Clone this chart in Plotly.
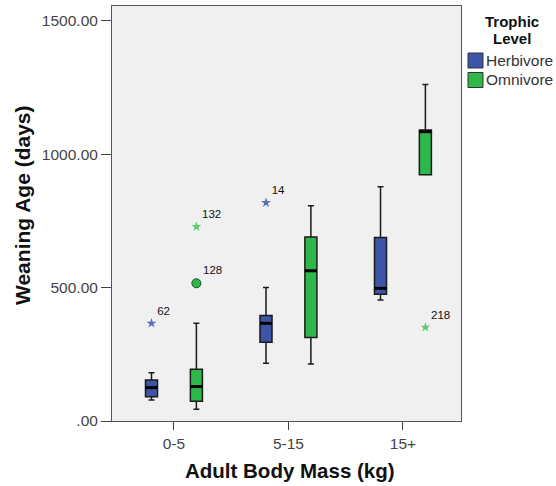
import plotly.graph_objects as go

# ---- data ----
categories = ["0-5", "5-15", "15+"]
groups = ["Herbivore", "Omnivore"]

herb_low = [79, 216, 453]
herb_q1 = [91, 295, 475]
herb_med = [125, 366, 497]
herb_q3 = [154, 395, 688]
herb_high = [181, 500, 878]

omni_low = [44, 214, 923]
omni_q1 = [74, 313, 923]
omni_med = [129, 563, 1084]
omni_q3 = [194, 689, 1090]
omni_high = [366, 807, 1261]

# outliers: (category index, group, value, label, kind)
out_cat = [0, 0, 0, 1, 2]
out_grp = ["Herbivore", "Omnivore", "Omnivore", "Herbivore", "Omnivore"]
out_val = [366, 516, 728, 818, 351]
out_lab = ["62", "128", "132", "14", "218"]
out_kind = ["extreme", "outlier", "extreme", "extreme", "extreme"]

y_ticks = [0, 500, 1000, 1500]
y_ticktext = [".00", "500.00", "1000.00", "1500.00"]

# ---- styling ----
colors = {"Herbivore": "#3D55A6", "Omnivore": "#2EB84A"}
star_colors = {"Herbivore": "#5A6FC0", "Omnivore": "#5CCB72"}
offset = {"Herbivore": -0.196, "Omnivore": 0.196}
bw = 0.105
FONT = "Liberation Sans, Arial, sans-serif"

# plot area in pixels (for placing non-data decorations)
W, H = 556, 486
PL, PR, PT, PB = 112, 461, 6, 421


def px(x):
    return (x - PL) / (PR - PL)


def py(y):
    return (PB - y) / (PB - PT)


stats = {
    "Herbivore": (herb_low, herb_q1, herb_med, herb_q3, herb_high),
    "Omnivore": (omni_low, omni_q1, omni_med, omni_q3, omni_high),
}

fig = go.Figure()
for g in groups:
    low, q1, med, q3, high = stats[g]
    xs = [i + offset[g] for i in range(len(categories))]
    fig.add_trace(go.Box(
        x=xs, lowerfence=low, q1=q1, median=med, q3=q3, upperfence=high,
        width=bw, whiskerwidth=0.5,
        fillcolor=colors[g], line=dict(color="#1a1a1a", width=1.5),
        showlegend=False, name=g, hoverinfo="skip",
    ))
    # thick median lines
    mx, my = [], []
    for x, m in zip(xs, med):
        mx += [x - bw / 2, x + bw / 2, None]
        my += [m, m, None]
    fig.add_trace(go.Scatter(x=mx, y=my, mode="lines",
                             line=dict(color="black", width=3),
                             showlegend=False, hoverinfo="skip"))

# outliers
for c, g, v, lab, k in zip(out_cat, out_grp, out_val, out_lab, out_kind):
    x = c + offset[g]
    if k == "extreme":
        marker = dict(symbol="star", size=7.5, color=star_colors[g], line=dict(width=0))
    else:
        marker = dict(symbol="circle", size=9, color=colors[g], line=dict(color="#1a4a22", width=1))
    fig.add_trace(go.Scatter(
        x=[x], y=[v], mode="markers+text", marker=marker,
        text=[lab], textposition="top right",
        textfont=dict(family=FONT, size=11.5, color="#111111"),
        showlegend=False, hoverinfo="skip", cliponaxis=False,
    ))

# legend key (swatches + labels), drawn as decorations
shapes = []
annotations = []
sw_y = {"Herbivore": (53, 68), "Omnivore": (72.5, 87.5)}
for g in groups:
    y0, y1 = sw_y[g]
    shapes.append(dict(type="rect", xref="paper", yref="paper",
                       x0=px(468), x1=px(483), y0=py(y1), y1=py(y0),
                       fillcolor=colors[g], line=dict(color="#333333", width=1)))
    annotations.append(dict(text=g, xref="paper", yref="paper",
                            x=px(484), y=py((y0 + y1) / 2), xanchor="left", yanchor="middle",
                            showarrow=False,
                            font=dict(family=FONT, size=15.5, color="#333333")))

annotations += [
    dict(text="<b>Adult Body Mass (kg)</b>", xref="paper", yref="paper",
         x=px(289.5), y=py(470), xanchor="center", yanchor="middle",
         showarrow=False, font=dict(family=FONT, size=20.5, color="#111111")),
    dict(text="<b>Weaning Age (days)</b>", xref="paper", yref="paper",
         x=px(22), y=py(205), xanchor="center", yanchor="middle",
         textangle=-90, showarrow=False, font=dict(family=FONT, size=21, color="#111111")),
    dict(text="<b>Trophic</b>", xref="paper", yref="paper",
         x=px(511.5), y=py(22), xanchor="center", yanchor="middle",
         showarrow=False, font=dict(family=FONT, size=15, color="#111111")),
    dict(text="<b>Level</b>", xref="paper", yref="paper",
         x=px(511.5), y=py(38), xanchor="center", yanchor="middle",
         showarrow=False, font=dict(family=FONT, size=15, color="#111111")),
]

fig.update_layout(
    width=W, height=H,
    margin=dict(l=PL, r=W - PR, t=PT, b=H - PB, autoexpand=False),
    paper_bgcolor="white", plot_bgcolor="#F0F0F0",
    font=dict(family=FONT, color="#333333"),
    showlegend=False,
    xaxis=dict(
        range=[-0.541, 2.507], tickmode="array",
        tickvals=list(range(len(categories))), ticktext=categories,
        ticks="outside", ticklen=8, tickcolor="#444444",
        showgrid=False, zeroline=False,
        showline=True, linecolor="#555555", linewidth=1, mirror=True,
        tickfont=dict(family=FONT, size=15.5, color="#444444"),
    ),
    yaxis=dict(
        range=[0, 1555], tickmode="array", tickvals=y_ticks, ticktext=y_ticktext,
        ticks="outside", ticklen=10, tickcolor="#444444",
        showgrid=False, zeroline=False,
        showline=True, linecolor="#555555", linewidth=1, mirror=True,
        tickfont=dict(family=FONT, size=15.5, color="#444444"),
    ),
    shapes=shapes,
    annotations=annotations,
)

fig.write_html("out.html", config={"displayModeBar": False},
               post_script="document.body.style.margin='0px';")
